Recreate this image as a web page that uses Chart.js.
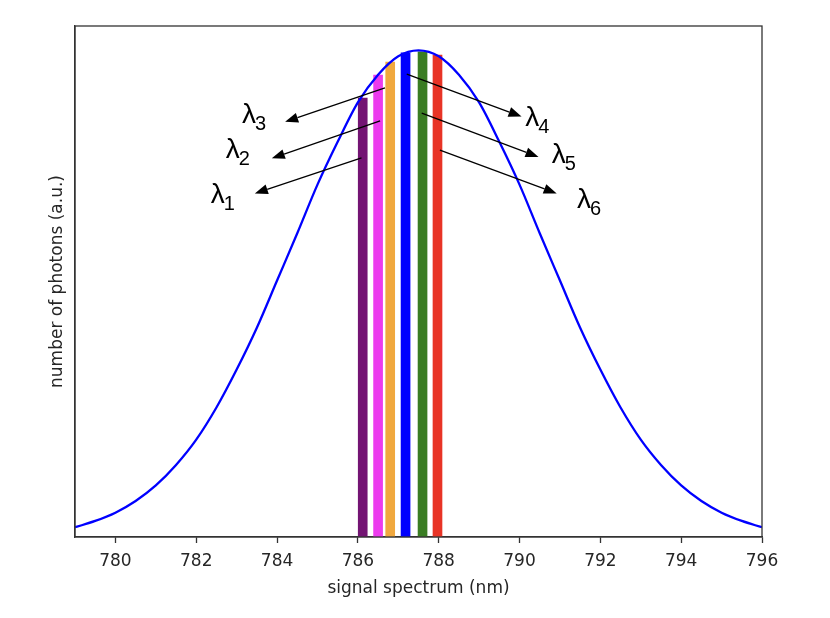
<!DOCTYPE html>
<html>
<head>
<meta charset="utf-8">
<script src="https://cdn.jsdelivr.net/npm/chart.js@4.4.1/dist/chart.umd.min.js"></script>
<style>
  html, body { margin: 0; padding: 0; background: #fff; }
  #wrap { width: 830px; height: 618px; position: relative; }
</style>
</head>
<body>
<div id="wrap"><canvas id="spectrum"></canvas></div>
<script>
// signal spectrum curve, read every 0.5 nm
const wavelengths = [779, 779.5, 780, 780.5, 781, 781.5, 782, 782.5, 783, 783.5, 784, 784.5,
  785, 785.5, 786, 786.5, 787, 787.5, 788, 788.5, 789, 789.5, 790, 790.5, 791, 791.5,
  792, 792.5, 793, 793.5, 794, 794.5, 795, 795.5, 796];
const photons = [0.020, 0.033, 0.050, 0.074, 0.106, 0.148, 0.200, 0.266, 0.344, 0.430, 0.527, 0.624,
  0.724, 0.812, 0.893, 0.950, 0.988, 1.000, 0.988, 0.950, 0.893, 0.812, 0.724, 0.624, 0.527, 0.430,
  0.344, 0.266, 0.200, 0.148, 0.106, 0.074, 0.050, 0.033, 0.020];

// the six selected channels
const channelNm = [786.12, 786.5, 786.8, 787.18, 787.6, 787.97];
const channelHeight = [0.902, 0.949, 0.976, 0.995, 0.997, 0.990];
const channelColors = ["#731473", "#ec3bee", "#f0a83e", "#0000ff", "#3a7d23", "#e83426"];

// arrows (data units) and lambda labels
const arrowFromX = [786.09, 786.55, 786.67, 787.21, 787.58, 788.03];
const arrowFromY = [0.779, 0.855, 0.923, 0.951, 0.871, 0.795];
const arrowToX = [783.45, 783.87, 784.20, 790.05, 790.47, 790.92];
const arrowToY = [0.706, 0.778, 0.853, 0.864, 0.781, 0.706];
const labelX = [782.36, 782.73, 783.13, 790.14, 790.80, 791.42];
const labelY = [0.686, 0.779, 0.851, 0.845, 0.769, 0.677];
const labelSub = ["1", "2", "3", "4", "5", "6"];

const xTicks = [780, 782, 784, 786, 788, 790, 792, 794, 796];

const textColor = "#262626";
const frameColor = "#333333";

const framePlugin = {
  id: "frame",
  afterDraw(chart) {
    const { ctx, chartArea: a, scales } = chart;
    ctx.save();
    ctx.strokeStyle = frameColor;
    ctx.lineWidth = 1.3;
    ctx.strokeRect(a.left, a.top, a.right - a.left, a.bottom - a.top);

    // arrows
    ctx.strokeStyle = "#000";
    ctx.fillStyle = "#000";
    ctx.lineWidth = 1.3;
    for (let i = 0; i < arrowFromX.length; i++) {
      const x0 = scales.x.getPixelForValue(arrowFromX[i]);
      const y0 = scales.y.getPixelForValue(arrowFromY[i]);
      const x1 = scales.x.getPixelForValue(arrowToX[i]);
      const y1 = scales.y.getPixelForValue(arrowToY[i]);
      const ang = Math.atan2(y1 - y0, x1 - x0);
      const head = 13, half = 5;
      const bx = x1 - head * Math.cos(ang), by = y1 - head * Math.sin(ang);
      ctx.beginPath();
      ctx.moveTo(x0, y0);
      ctx.lineTo(bx, by);
      ctx.stroke();
      ctx.beginPath();
      ctx.moveTo(x1, y1);
      ctx.lineTo(bx + half * Math.sin(ang), by - half * Math.cos(ang));
      ctx.lineTo(bx - half * Math.sin(ang), by + half * Math.cos(ang));
      ctx.closePath();
      ctx.fill();
    }

    // lambda labels
    ctx.textBaseline = "alphabetic";
    ctx.textAlign = "left";
    for (let i = 0; i < labelX.length; i++) {
      const lx = scales.x.getPixelForValue(labelX[i]);
      const ly = scales.y.getPixelForValue(labelY[i]);
      ctx.font = "28px 'Liberation Sans', Arial, sans-serif";
      ctx.fillText("λ", lx, ly);
      const w = ctx.measureText("λ").width;
      ctx.font = "20px 'Liberation Sans', Arial, sans-serif";
      ctx.fillText(labelSub[i], lx + w - 1, ly + 7);
    }
    ctx.restore();
  }
};

new Chart(document.getElementById("spectrum"), {
  data: {
    datasets: [
      {
        type: "line",
        data: wavelengths.map((w, i) => ({ x: w, y: photons[i] })),
        borderColor: "#0000ff",
        borderWidth: 2.3,
        pointRadius: 0,
        cubicInterpolationMode: "monotone",
        fill: false,
        order: 0
      },
      {
        type: "bar",
        data: channelNm.map((w, i) => ({ x: w, y: channelHeight[i] })),
        backgroundColor: channelColors,
        barThickness: 9,
        grouped: false,
        order: 1
      }
    ]
  },
  plugins: [framePlugin],
  options: {
    responsive: true,
    maintainAspectRatio: false,
    animation: false,
    layout: { padding: { left: 43, top: 26, right: 68, bottom: 0 } },
    plugins: { legend: { display: false }, tooltip: { enabled: false } },
    scales: {
      x: {
        type: "linear",
        min: 779,
        max: 796,
        offset: false,
        afterBuildTicks(scale) { scale.ticks = xTicks.map(v => ({ value: v })); },
        afterFit(scale) { scale.height = 81; },
        grid: { display: true, offset: false, drawOnChartArea: false, drawTicks: true, tickLength: 6, tickColor: frameColor, tickWidth: 1.3 },
        border: { display: true, color: frameColor, width: 1.3 },
        ticks: { color: textColor, font: { family: "DejaVu Sans", size: 17 }, padding: 8, maxRotation: 0 },
        title: { display: true, text: "signal spectrum (nm)", color: textColor, font: { family: "DejaVu Sans", size: 17 }, padding: { top: 2, bottom: 19 } }
      },
      y: {
        min: 0,
        max: 1.05,
        afterFit(scale) { scale.width = 32; },
        grid: { display: false },
        border: { display: true, color: frameColor, width: 1.3 },
        ticks: { display: false },
        title: { display: true, text: "number of photons (a.u.)", color: textColor, font: { family: "DejaVu Sans", size: 17 }, padding: { top: 4, bottom: 4 } }
      }
    }
  }
});
</script>
</body>
</html>
